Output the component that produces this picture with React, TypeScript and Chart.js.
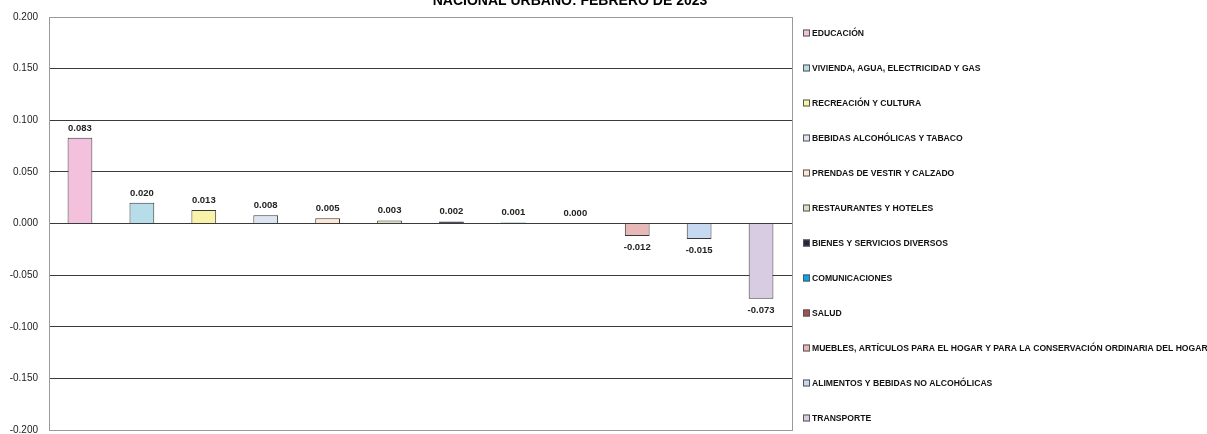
import React, { useEffect, useRef } from "react";
import { Chart, registerables } from "chart.js";

Chart.register(...registerables);

const TITLE = "NACIONAL URBANO: FEBRERO DE 2023";

const categories: string[] = [
  "EDUCACIÓN",
  "VIVIENDA, AGUA, ELECTRICIDAD Y GAS",
  "RECREACIÓN Y CULTURA",
  "BEBIDAS ALCOHÓLICAS Y TABACO",
  "PRENDAS DE VESTIR Y CALZADO",
  "RESTAURANTES Y HOTELES",
  "BIENES Y SERVICIOS DIVERSOS",
  "COMUNICACIONES",
  "SALUD",
  "MUEBLES, ARTÍCULOS PARA EL HOGAR Y PARA LA CONSERVACIÓN ORDINARIA DEL HOGAR",
  "ALIMENTOS Y BEBIDAS NO ALCOHÓLICAS",
  "TRANSPORTE",
];

const values: number[] = [
  0.083, 0.02, 0.013, 0.008, 0.005, 0.003, 0.002, 0.001, 0.0004, -0.012, -0.015, -0.073,
];

const colors: string[] = [
  "#F4C1DD",
  "#B7DDE8",
  "#F8F3A8",
  "#DCE5F1",
  "#FCE6D6",
  "#D7E3BD",
  "#2B2440",
  "#0EA5E8",
  "#A0534E",
  "#E6B8B7",
  "#C6D9F0",
  "#D8CCE3",
];

const yTicks: number[] = [0.2, 0.15, 0.1, 0.05, 0, -0.05, -0.1, -0.15, -0.2];

const FONT = "'Liberation Sans', Arial, sans-serif";

const decorPlugin = {
  id: "decor",
  beforeDatasetsDraw(chart: any) {
    const { ctx, chartArea } = chart;
    ctx.save();
    ctx.strokeStyle = "#9a9a9a";
    ctx.lineWidth = 1;
    ctx.strokeRect(
      Math.round(chartArea.left) + 0.5,
      Math.round(chartArea.top) + 0.5,
      Math.round(chartArea.right - chartArea.left),
      Math.round(chartArea.bottom - chartArea.top)
    );
    ctx.restore();
  },
  afterDraw(chart: any) {
    const { ctx, chartArea } = chart;
    ctx.save();
    // Title (clipped at top)
    ctx.fillStyle = "#000";
    ctx.font = `bold 14px ${FONT}`;
    ctx.textAlign = "center";
    ctx.textBaseline = "alphabetic";
    ctx.fillText(TITLE, 570, 4.5);

    // Data labels
    const meta = chart.getDatasetMeta(0);
    ctx.font = `bold 9.5px ${FONT}`;
    ctx.fillStyle = "#222";
    meta.data.forEach((bar: any, i: number) => {
      const v = values[i];
      const label = v.toFixed(3);
      if (v >= 0) {
        ctx.textBaseline = "bottom";
        ctx.fillText(label, bar.x, bar.y - 5);
      } else {
        ctx.textBaseline = "top";
        ctx.fillText(label, bar.x, bar.y + 7);
      }
    });

    // Legend
    const lx = chartArea.right + 11;
    ctx.textAlign = "left";
    ctx.textBaseline = "middle";
    ctx.font = `bold 8.6px ${FONT}`;
    categories.forEach((c, i) => {
      const cy = 33 + i * 35;
      ctx.fillStyle = colors[i];
      ctx.fillRect(lx, cy - 3.5, 7, 7);
      ctx.strokeStyle = "#555";
      ctx.lineWidth = 1;
      ctx.strokeRect(lx + 0.5, cy - 3.5 + 0.5, 6, 6);
      ctx.fillStyle = "#111";
      ctx.fillText(c, lx + 9, cy + 0.5);
    });
    ctx.restore();
  },
};

export default function App() {
  const ref = useRef<HTMLCanvasElement>(null);
  useEffect(() => {
    if (!ref.current) return;
    const chart = new Chart(ref.current, {
      type: "bar",
      data: {
        labels: categories,
        datasets: [
          {
            data: values,
            backgroundColor: colors,
            borderColor: "#383838",
            borderWidth: 1,
            barPercentage: 0.4,
            categoryPercentage: 1,
          },
        ],
      },
      options: {
        animation: false,
        responsive: false,
        maintainAspectRatio: false,
        layout: { padding: { top: 17, bottom: 4, right: 415, left: 0 } },
        plugins: {
          legend: { display: false },
          title: { display: false },
          tooltip: { enabled: false },
        },
        scales: {
          x: {
            display: false,
            grid: { display: false },
          },
          y: {
            min: -0.2,
            max: 0.2,
            afterFit: (s: any) => {
              s.width = 49;
              s.paddingTop = 0;
              s.paddingBottom = 0;
            },
            afterBuildTicks: (s: any) => {
              s.ticks = yTicks.map((v) => ({ value: v }));
            },
            ticks: {
              padding: 11,
              color: "#222",
              font: { family: FONT, size: 10 },
              callback: (v: any) => Number(v).toFixed(3),
            },
            grid: {
              color: (c: any) =>
                c.tick && Math.abs(c.tick.value) > 0.19 ? "#9a9a9a" : "#3a3a3a",
              lineWidth: 1,
              drawTicks: false,
            },
            border: { display: true, color: "#555" },
          },
        },
      },
      plugins: [decorPlugin],
    });
    return () => chart.destroy();
  }, []);
  return (
    <div style={{ position: "fixed", left: 0, top: 0, width: 1207, height: 434, background: "#fff" }}>
      <canvas ref={ref} width={1207} height={434} style={{ width: 1207, height: 434 }} />
    </div>
  );
}
